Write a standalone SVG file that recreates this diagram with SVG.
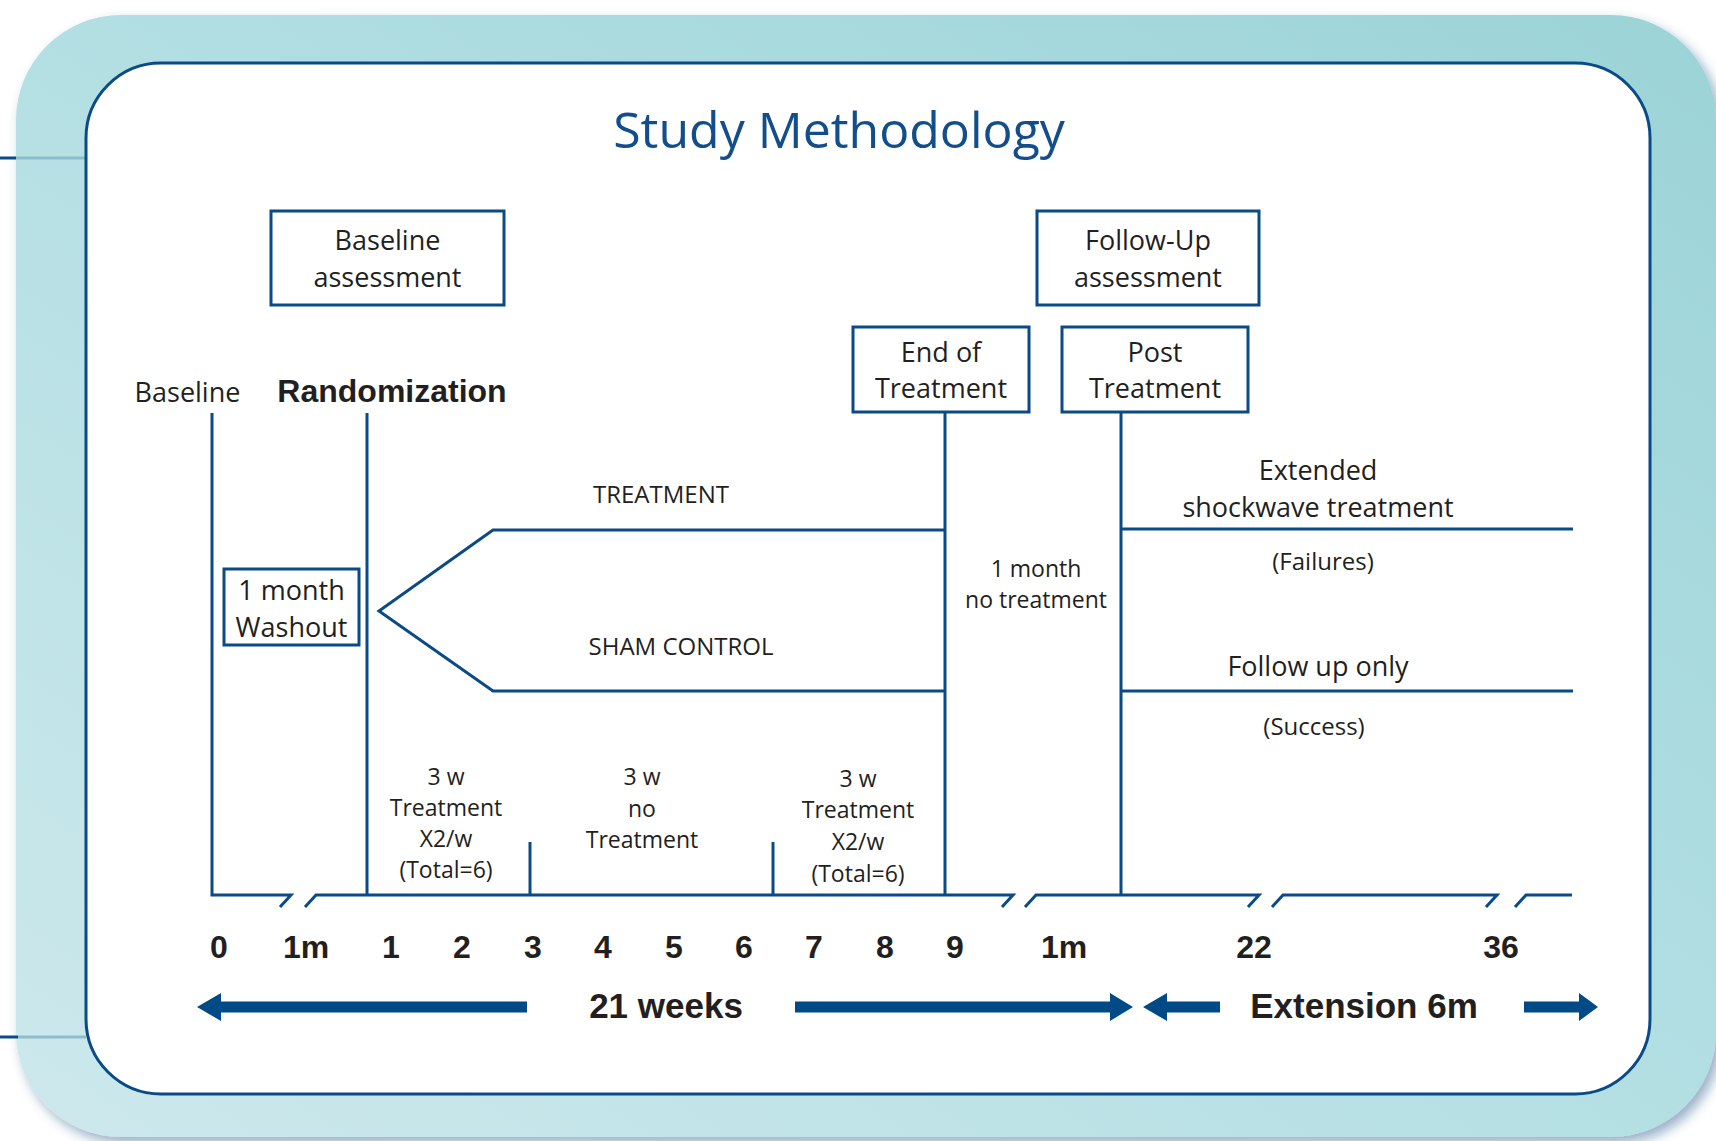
<svg xmlns="http://www.w3.org/2000/svg" width="1716" height="1141" viewBox="0 0 1716 1141">
<defs>
  <linearGradient id="teal" x1="0" y1="1" x2="1" y2="0">
    <stop offset="0" stop-color="#cde8ec"/>
    <stop offset="0.5" stop-color="#b3dfe3"/>
    <stop offset="1" stop-color="#9bd3d7"/>
  </linearGradient>
  <filter id="shadow" x="-5%" y="-5%" width="110%" height="110%">
    <feDropShadow dx="5" dy="6" stdDeviation="6" flood-color="#1c4f82" flood-opacity="0.45"/>
  </filter>
  <style>
    .ln { fill: none; stroke: #0a4a86; stroke-width: 3; }
    .box { fill: #ffffff; stroke: #0a4a86; stroke-width: 3; }
    .t { font-family: "Open Sans", "Noto Sans", sans-serif; fill: #231f20; text-anchor: middle; }
    .t27 { font-size: 27px; }
    .t24 { font-size: 24px; }
    .t23 { font-size: 23px; }
    .b { font-family: "Liberation Sans", Arial, sans-serif; font-weight: bold; fill: #231f20; text-anchor: middle; }
    .arrow { fill: #004b85; }
  </style>
</defs>

<!-- background frame -->
<g id="frame">
  <rect x="16" y="15" width="1700" height="1122" rx="105" fill="url(#teal)" filter="url(#shadow)"/>
  <line x1="0" y1="158" x2="16" y2="158" stroke="#0a4a86" stroke-width="3"/>
  <line x1="16" y1="158" x2="86" y2="158" stroke="#8dbdcb" stroke-width="3"/>
  <line x1="0" y1="1037" x2="18" y2="1037" stroke="#0a4a86" stroke-width="3"/>
  <line x1="18" y1="1037" x2="86" y2="1037" stroke="#8dbdcb" stroke-width="3"/>
  <rect x="86" y="63" width="1564" height="1031" rx="75" fill="#ffffff" stroke="#0a4a86" stroke-width="3"/>
</g>

<g id="title">
  <text x="839" y="148" font-family="'Open Sans', 'Noto Sans', sans-serif" font-size="50" fill="#134e8c" text-anchor="middle">Study Methodology</text>
</g>

<!-- connectors -->
<g id="connectors">
  <path class="ln" d="M212,413 V895 H291 l-11,12"/>
  <path class="ln" d="M305,907 l11,-12 H1013 l-11,12"/>
  <path class="ln" d="M1025,907 l11,-12 H1259 l-11,12"/>
  <path class="ln" d="M1272,907 l11,-12 H1497 l-11,12"/>
  <path class="ln" d="M1515,907 l11,-12 H1572"/>
  <line class="ln" x1="367" y1="413" x2="367" y2="895"/>
  <line class="ln" x1="530" y1="842" x2="530" y2="895"/>
  <line class="ln" x1="773" y1="842" x2="773" y2="895"/>
  <line class="ln" x1="945" y1="412" x2="945" y2="895"/>
  <line class="ln" x1="1121" y1="412" x2="1121" y2="895"/>
  <path class="ln" d="M945,530 H493 L379,611 L493,691 H945"/>
  <line class="ln" x1="1121" y1="529" x2="1573" y2="529"/>
  <line class="ln" x1="1121" y1="691" x2="1573" y2="691"/>
</g>

<g id="baseline-assessment">
  <rect class="box" x="271" y="211" width="233" height="94"/>
  <text class="t t27" x="387.5" y="250">Baseline</text>
  <text class="t t27" x="387.5" y="287">assessment</text>
</g>

<g id="followup-assessment">
  <rect class="box" x="1037" y="211" width="222" height="94"/>
  <text class="t t27" x="1148" y="250">Follow-Up</text>
  <text class="t t27" x="1148" y="287">assessment</text>
</g>

<g id="end-of-treatment">
  <rect class="box" x="853" y="327" width="176" height="85"/>
  <text class="t t27" x="941" y="362">End of</text>
  <text class="t t27" x="941" y="398">Treatment</text>
</g>

<g id="post-treatment">
  <rect class="box" x="1062" y="327" width="186" height="85"/>
  <text class="t t27" x="1155" y="362">Post</text>
  <text class="t t27" x="1155" y="398">Treatment</text>
</g>

<g id="washout">
  <rect class="box" x="224" y="569" width="135" height="76"/>
  <text class="t t27" x="291.5" y="600">1 month</text>
  <text class="t t27" x="291.5" y="637">Washout</text>
</g>

<g id="labels">
  <text class="t t27" x="187.5" y="402">Baseline</text>
  <text class="b" x="392" y="402" font-size="32">Randomization</text>
  <text class="t t24" x="661" y="503">TREATMENT</text>
  <text class="t t24" x="681" y="655">SHAM CONTROL</text>
  <text class="t t23" x="1036" y="577">1 month</text>
  <text class="t t23" x="1036" y="608">no treatment</text>
  <text class="t t27" x="1318" y="480">Extended</text>
  <text class="t t27" x="1318" y="517">shockwave treatment</text>
  <text class="t t24" x="1323" y="570">(Failures)</text>
  <text class="t t27" x="1318" y="676">Follow up only</text>
  <text class="t t24" x="1314" y="735">(Success)</text>

  <text class="t t23" x="446" y="785">3 w</text>
  <text class="t t23" x="446" y="816">Treatment</text>
  <text class="t t23" x="446" y="847">X2/w</text>
  <text class="t t23" x="446" y="878">(Total=6)</text>

  <text class="t t23" x="642" y="785">3 w</text>
  <text class="t t23" x="642" y="817">no</text>
  <text class="t t23" x="642" y="848">Treatment</text>

  <text class="t t23" x="858" y="787">3 w</text>
  <text class="t t23" x="858" y="818">Treatment</text>
  <text class="t t23" x="858" y="850">X2/w</text>
  <text class="t t23" x="858" y="882">(Total=6)</text>
</g>

<g id="axis-labels" font-size="32">
  <text class="b" x="219" y="958">0</text>
  <text class="b" x="306" y="958">1m</text>
  <text class="b" x="391" y="958">1</text>
  <text class="b" x="462" y="958">2</text>
  <text class="b" x="533" y="958">3</text>
  <text class="b" x="603" y="958">4</text>
  <text class="b" x="674" y="958">5</text>
  <text class="b" x="744" y="958">6</text>
  <text class="b" x="814" y="958">7</text>
  <text class="b" x="885" y="958">8</text>
  <text class="b" x="955" y="958">9</text>
  <text class="b" x="1064" y="958">1m</text>
  <text class="b" x="1254" y="958">22</text>
  <text class="b" x="1501" y="958">36</text>
</g>

<g id="durations">
  <polygon class="arrow" points="197,1007 221,993 221,1001.5 527,1001.5 527,1012.5 221,1012.5 221,1021"/>
  <text class="b" x="666" y="1018" font-size="35">21 weeks</text>
  <polygon class="arrow" points="1133,1007 1110,993 1110,1001.5 795,1001.5 795,1012.5 1110,1012.5 1110,1021"/>
  <polygon class="arrow" points="1143,1007 1167,993 1167,1001.5 1220,1001.5 1220,1012.5 1167,1012.5 1167,1021"/>
  <text class="b" x="1364" y="1018" font-size="35">Extension 6m</text>
  <polygon class="arrow" points="1598,1007 1579,993 1579,1001.5 1524,1001.5 1524,1012.5 1579,1012.5 1579,1021"/>
</g>
</svg>
